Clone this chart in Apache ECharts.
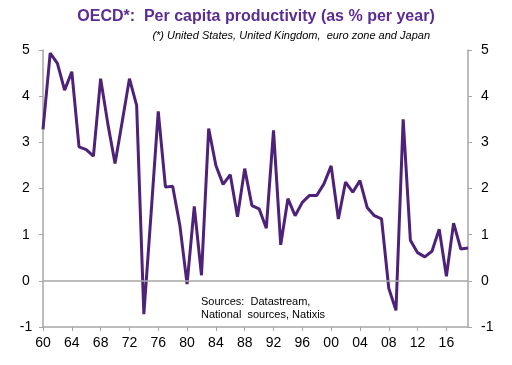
<!DOCTYPE html>
<html><head><meta charset="utf-8">
<script src="https://cdn.jsdelivr.net/npm/echarts@6/dist/echarts.min.js"></script>
<style>html,body{margin:0;padding:0;background:#fff}#c{width:512px;height:365px}</style>
</head><body><div id="c"></div>
<script>
const years = [];
for (let y = 1960; y <= 2019; y++) years.push(String(y % 100).padStart(2, '0'));
const productivity = [
  3.28, 4.93, 4.71, 4.13, 4.53, 2.90, 2.84, 2.70, 4.38, 3.40,
  2.54, 3.45, 4.38, 3.80, -0.72, 1.45, 3.67, 2.03, 2.05, 1.20,
  -0.07, 1.61, 0.12, 3.30, 2.50, 2.09, 2.30, 1.39, 2.43, 1.63,
  1.56, 1.14, 3.26, 0.78, 1.78, 1.41, 1.70, 1.85, 1.85, 2.10,
  2.49, 1.34, 2.14, 1.92, 2.17, 1.59, 1.41, 1.34, -0.16, -0.64,
  3.50, 0.88, 0.61, 0.52, 0.64, 1.12, 0.10, 1.25, 0.69, 0.71
];
const yTicks = { min: -1, max: 5, interval: 1 };
const titleText = 'OECD*:  Per capita productivity (as % per year)';
const noteText = '(*) United States, United Kingdom,  euro zone and Japan';
const sourceText = 'Sources:  Datastream,\nNational  sources, Natixis';

const purple = '#4F2279';
const axisGrey = '#A6A6A6';
const font = '"Liberation Sans", Arial, sans-serif';

const chart = echarts.init(document.getElementById('c'));
chart.setOption({
  animation: false,
  textStyle: { fontFamily: font },
  title: [
    { text: titleText, left: 'center', top: 4,
      textStyle: { color: '#5C2D91', fontSize: 16, fontWeight: 'bold', fontFamily: font } },
    { text: noteText, right: 77, top: 25,
      textStyle: { color: '#000', fontSize: 11, fontStyle: 'italic', fontWeight: 'normal', fontFamily: font } }
  ],
  graphic: [
    { type: 'text', left: 201, top: 295,
      style: { text: sourceText, fill: '#000', font: '11px ' + font, lineHeight: 13 } }
  ],
  grid: { left: 43, right: 44, top: 50, bottom: 38 },
  xAxis: {
    type: 'category', data: years, boundaryGap: false,
    axisLine: { onZero: false, lineStyle: { color: axisGrey, width: 1.5 } },
    axisTick: { interval: 3, length: 4, lineStyle: { color: axisGrey } },
    axisLabel: { interval: 3, color: '#000', fontSize: 14, margin: 9 },
    splitLine: { show: false }
  },
  yAxis: [
    { type: 'value', min: yTicks.min, max: yTicks.max, interval: yTicks.interval, position: 'left',
      axisLine: { show: true, lineStyle: { color: axisGrey, width: 1.5 } },
      axisTick: { show: true, length: 4, lineStyle: { color: axisGrey } },
      axisLabel: { color: '#000', fontSize: 14, margin: 17, align: 'center' },
      splitLine: { show: false } },
    { type: 'value', min: yTicks.min, max: yTicks.max, interval: yTicks.interval, position: 'right',
      axisLine: { show: true, lineStyle: { color: axisGrey, width: 1.5 } },
      axisTick: { show: true, length: 4, lineStyle: { color: axisGrey } },
      axisLabel: { color: '#000', fontSize: 14, margin: 13 },
      splitLine: { show: false } }
  ],
  series: [{
    type: 'line', data: productivity, yAxisIndex: 0,
    symbol: 'none', lineStyle: { color: purple, width: 3 },
    markLine: { silent: true, symbol: 'none', label: { show: false },
      lineStyle: { color: axisGrey, width: 1.5, type: 'solid' },
      data: [{ yAxis: 0 }] },
    z: 3
  }]
});
</script></body></html>
